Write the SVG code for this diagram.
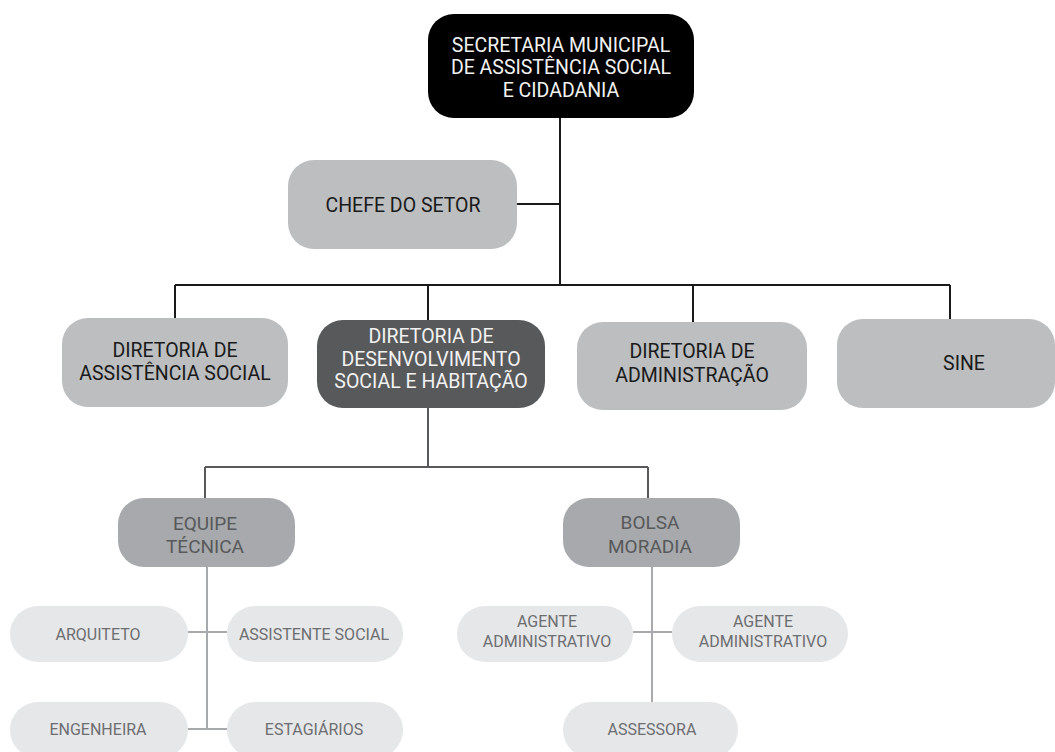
<svg xmlns="http://www.w3.org/2000/svg" width="1055" height="752" viewBox="0 0 1055 752">
<style>
text{font-family:Roboto,"Liberation Sans",sans-serif;text-anchor:middle}
.t1{font-size:19.5px;fill:#1a1a1a}
.tw{font-size:19.5px;fill:#f2f2f2}
.t2{font-size:19px;fill:#58595b}
.t3{font-size:16px;fill:#6d6e71}
.k{stroke:#1a1a1a;stroke-width:2;fill:none}
.g{stroke:#58595b;stroke-width:2;fill:none}
.l{stroke:#a7a9ac;stroke-width:2;fill:none}
</style>
<rect width="1055" height="752" fill="#ffffff"/>
<g id="connectors">
<path class="k" d="M560 117V285M517 204H560M175 285H950M175 285V318M428 285V320M693 285V322M950 285V319"/>
<path class="g" d="M428 408V467M205 467H648M205 467V498M648 467V498"/>
<path class="l" d="M207 567V729M188 632H227M188 729H227M652 567V702M633 632H672"/>
</g>
<g id="secretaria"><rect x="428" y="14" width="266" height="104" rx="26" fill="#000"/>
<text class="tw" x="561" y="52">SECRETARIA MUNICIPAL</text><text class="tw" x="561" y="74">DE ASSISTÊNCIA SOCIAL</text><text class="tw" x="561" y="97">E CIDADANIA</text></g>
<g id="chefe"><rect x="288" y="160" width="229" height="89" rx="26" fill="#bcbec0"/>
<text class="t1" x="403" y="212">CHEFE DO SETOR</text></g>
<g id="dir-assist"><rect x="62" y="318" width="226" height="89" rx="26" fill="#bcbec0"/>
<text class="t1" x="175" y="357">DIRETORIA DE</text><text class="t1" x="175" y="380">ASSISTÊNCIA SOCIAL</text></g>
<g id="dir-desenv"><rect x="317" y="320" width="228" height="88" rx="26" fill="#58595b"/>
<text class="tw" x="431" y="343">DIRETORIA DE</text><text class="tw" x="431" y="366">DESENVOLVIMENTO</text><text class="tw" x="431" y="388">SOCIAL E HABITAÇÃO</text></g>
<g id="dir-admin"><rect x="577" y="322" width="230" height="88" rx="26" fill="#bcbec0"/>
<text class="t1" x="692" y="358">DIRETORIA DE</text><text class="t1" x="692" y="382">ADMINISTRAÇÃO</text></g>
<g id="sine"><rect x="837" y="319" width="218" height="89" rx="26" fill="#bcbec0"/>
<text class="t1" x="964" y="370">SINE</text></g>
<g id="equipe"><rect x="118" y="498" width="177" height="69" rx="26" fill="#a7a9ac"/>
<text class="t2" x="205" y="530">EQUIPE</text><text class="t2" x="205" y="553">TÉCNICA</text></g>
<g id="bolsa"><rect x="563" y="498" width="177" height="69" rx="26" fill="#a7a9ac"/>
<text class="t2" x="650" y="529">BOLSA</text><text class="t2" x="650" y="553">MORADIA</text></g>
<g id="arquiteto"><rect x="10" y="606" width="178" height="56" rx="28" fill="#e6e7e8"/>
<text class="t3" x="98" y="640">ARQUITETO</text></g>
<g id="assistente"><rect x="227" y="606" width="176" height="56" rx="28" fill="#e6e7e8"/>
<text class="t3" x="314" y="640">ASSISTENTE SOCIAL</text></g>
<g id="engenheira"><rect x="10" y="702" width="178" height="56" rx="28" fill="#e6e7e8"/>
<text class="t3" x="98" y="735">ENGENHEIRA</text></g>
<g id="estagiarios"><rect x="227" y="702" width="176" height="56" rx="28" fill="#e6e7e8"/>
<text class="t3" x="314" y="735">ESTAGIÁRIOS</text></g>
<g id="agente1"><rect x="457" y="606" width="176" height="56" rx="28" fill="#e6e7e8"/>
<text class="t3" x="547" y="627">AGENTE</text><text class="t3" x="547" y="647">ADMINISTRATIVO</text></g>
<g id="agente2"><rect x="672" y="606" width="176" height="56" rx="28" fill="#e6e7e8"/>
<text class="t3" x="763" y="627">AGENTE</text><text class="t3" x="763" y="647">ADMINISTRATIVO</text></g>
<g id="assessora"><rect x="563" y="702" width="175" height="56" rx="28" fill="#e6e7e8"/>
<text class="t3" x="652" y="735">ASSESSORA</text></g>
</svg>
